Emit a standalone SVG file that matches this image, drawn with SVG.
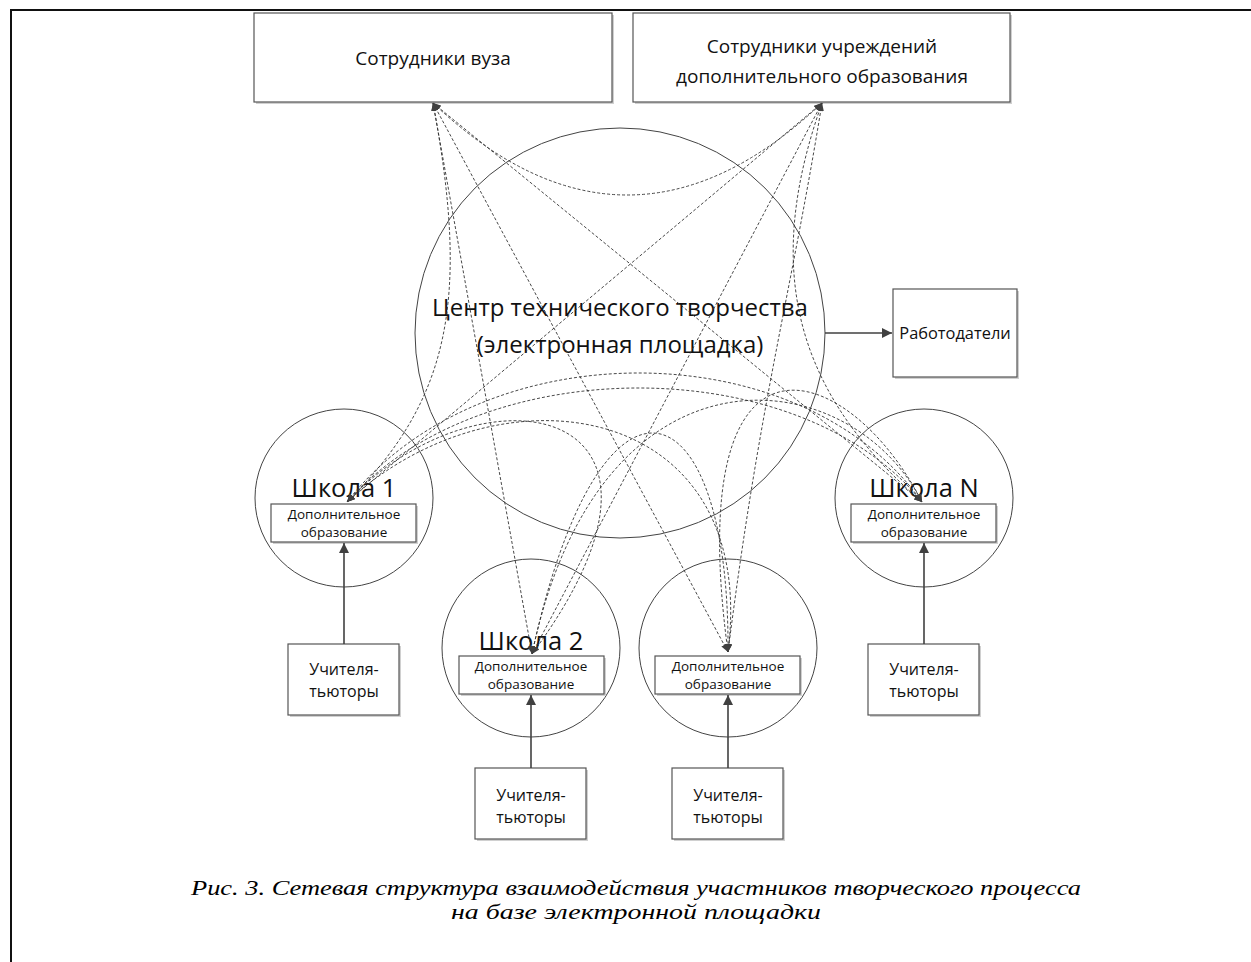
<svg xmlns="http://www.w3.org/2000/svg" width="1251" height="962" viewBox="0 0 1251 962">
<defs>
<marker id="ah" viewBox="0 0 10 10" refX="10" refY="5" markerWidth="10" markerHeight="10" markerUnits="userSpaceOnUse" orient="auto-start-reverse"><path d="M0,0 L10,5 L0,10 Z" fill="#404040"/></marker>
<marker id="dh" viewBox="0 0 10 10" refX="10" refY="5" markerWidth="8" markerHeight="8" markerUnits="userSpaceOnUse" orient="auto-start-reverse"><path d="M0,1 L10,5 L0,9 Z" fill="#404040"/></marker>
</defs>
<style>
.box{fill:#fff;stroke:#555;stroke-width:1.2}
.shadow{fill:#d0d0d0}
.circ{fill:none;stroke:#444;stroke-width:1}
.t{font-family:"Open Sans","Noto Sans",sans-serif;fill:#111;text-anchor:middle}
.solid{stroke:#404040;stroke-width:1.6;fill:none;marker-end:url(#ah)}
.dash{stroke:#333;stroke-width:0.9;fill:none;stroke-dasharray:3 2;marker-start:url(#dh);marker-end:url(#dh)}
.cap{font-family:"Liberation Serif",serif;font-style:italic;fill:#000;text-anchor:middle;font-size:21px}
</style>
<rect width="1251" height="962" fill="#fff"/>
<path d="M11,962 V10 H1251" fill="none" stroke="#111" stroke-width="2"/>

<g id="center">
<circle class="circ" cx="620" cy="333" r="205"/>
<text class="t" x="620" y="316" font-size="24">Центр технического творчества</text>
<text class="t" x="620" y="353" font-size="24">(электронная площадка)</text>
</g>
<g id="school1">
<circle class="circ" cx="344" cy="498" r="89"/>
<text class="t" x="344" y="497" font-size="25.5">Школа 1</text>
<rect class="shadow" x="273" y="506" width="145" height="38"/>
<rect class="box" x="271" y="504" width="145" height="38"/>
<text class="t" x="344" y="519" font-size="13.5">Дополнительное</text>
<text class="t" x="344" y="537" font-size="13.5">образование</text>
</g>
<g id="schoolN">
<circle class="circ" cx="924" cy="498" r="89"/>
<text class="t" x="924" y="497" font-size="25.5">Школа N</text>
<rect class="shadow" x="853" y="506" width="145" height="38"/>
<rect class="box" x="851" y="504" width="145" height="38"/>
<text class="t" x="924" y="519" font-size="13.5">Дополнительное</text>
<text class="t" x="924" y="537" font-size="13.5">образование</text>
</g>
<g id="school2">
<circle class="circ" cx="531" cy="648" r="89"/>
<text class="t" x="531" y="650" font-size="25.5">Школа 2</text>
<rect class="shadow" x="461" y="658" width="145" height="38"/>
<rect class="box" x="459" y="656" width="145" height="38"/>
<text class="t" x="531" y="671" font-size="13.5">Дополнительное</text>
<text class="t" x="531" y="689" font-size="13.5">образование</text>
</g>
<g id="school3">
<circle class="circ" cx="728" cy="648" r="89"/>
<rect class="shadow" x="657" y="658" width="145" height="38"/>
<rect class="box" x="655" y="656" width="145" height="38"/>
<text class="t" x="728" y="671" font-size="13.5">Дополнительное</text>
<text class="t" x="728" y="689" font-size="13.5">образование</text>
</g>
<g id="staff-univ">
<rect class="shadow" x="256" y="15" width="358" height="89"/>
<rect class="box" x="254" y="13" width="358" height="89"/>
<text class="t" x="433" y="65" font-size="19">Сотрудники вуза</text>
</g>
<g id="staff-extra">
<rect class="shadow" x="635" y="15" width="377" height="89"/>
<rect class="box" x="633" y="13" width="377" height="89"/>
<text class="t" x="822" y="53" font-size="19">Сотрудники учреждений</text>
<text class="t" x="822" y="83" font-size="19">дополнительного образования</text>
</g>
<g id="employers">
<rect class="shadow" x="895" y="291" width="124" height="88"/>
<rect class="box" x="893" y="289" width="124" height="88"/>
<text class="t" x="955" y="339" font-size="16.4">Работодатели</text>
</g>
<g id="tutors1">
<rect class="shadow" x="290" y="646" width="111" height="71"/>
<rect class="box" x="288" y="644" width="111" height="71"/>
<text class="t" x="344" y="675" font-size="16">Учителя-</text>
<text class="t" x="344" y="697" font-size="16">тьюторы</text>
</g>
<g id="tutorsN">
<rect class="shadow" x="870" y="646" width="111" height="71"/>
<rect class="box" x="868" y="644" width="111" height="71"/>
<text class="t" x="924" y="675" font-size="16">Учителя-</text>
<text class="t" x="924" y="697" font-size="16">тьюторы</text>
</g>
<g id="tutors2">
<rect class="shadow" x="477" y="770" width="111" height="71"/>
<rect class="box" x="475" y="768" width="111" height="71"/>
<text class="t" x="531" y="801" font-size="16">Учителя-</text>
<text class="t" x="531" y="823" font-size="16">тьюторы</text>
</g>
<g id="tutors3">
<rect class="shadow" x="674" y="770" width="111" height="71"/>
<rect class="box" x="672" y="768" width="111" height="71"/>
<text class="t" x="728" y="801" font-size="16">Учителя-</text>
<text class="t" x="728" y="823" font-size="16">тьюторы</text>
</g>

<g id="connectors">
<path class="solid" d="M825,333 H892"/>
<path class="solid" d="M344,644 V543"/>
<path class="solid" d="M924,644 V543"/>
<path class="solid" d="M531,768 V695"/>
<path class="solid" d="M728,768 V695"/>
<path class="dash" d="M433,103 Q627,287 822,103"/>
<path class="dash" d="M433,103 C470,300 450,400 347,502"/>
<path class="dash" d="M433,103 L532,654"/>
<path class="dash" d="M433,103 L728,652"/>
<path class="dash" d="M433,103 L922,502"/>
<path class="dash" d="M822,103 L347,502"/>
<path class="dash" d="M822,103 L532,654"/>
<path class="dash" d="M822,103 C790,300 760,400 728,652"/>
<path class="dash" d="M822,103 C770,250 780,380 922,502"/>
<path class="dash" d="M347,502 C480,330 800,330 922,502"/>
<path class="dash" d="M347,502 C480,350 800,350 922,502"/>
<path class="dash" d="M347,502 C480,360 720,400 532,654"/>
<path class="dash" d="M347,502 C500,360 760,400 728,652"/>
<path class="dash" d="M532,654 C600,330 850,360 922,502"/>
<path class="dash" d="M532,654 C600,340 730,380 728,652"/>
<path class="dash" d="M728,652 C680,300 850,360 922,502"/>
</g>

<g id="caption">
<text class="cap" x="636" y="895" textLength="890" lengthAdjust="spacingAndGlyphs">Рис. 3. Сетевая структура взаимодействия участников творческого процесса</text>
<text class="cap" x="636" y="919" textLength="370" lengthAdjust="spacingAndGlyphs">на базе электронной площадки</text>
</g>
</svg>
